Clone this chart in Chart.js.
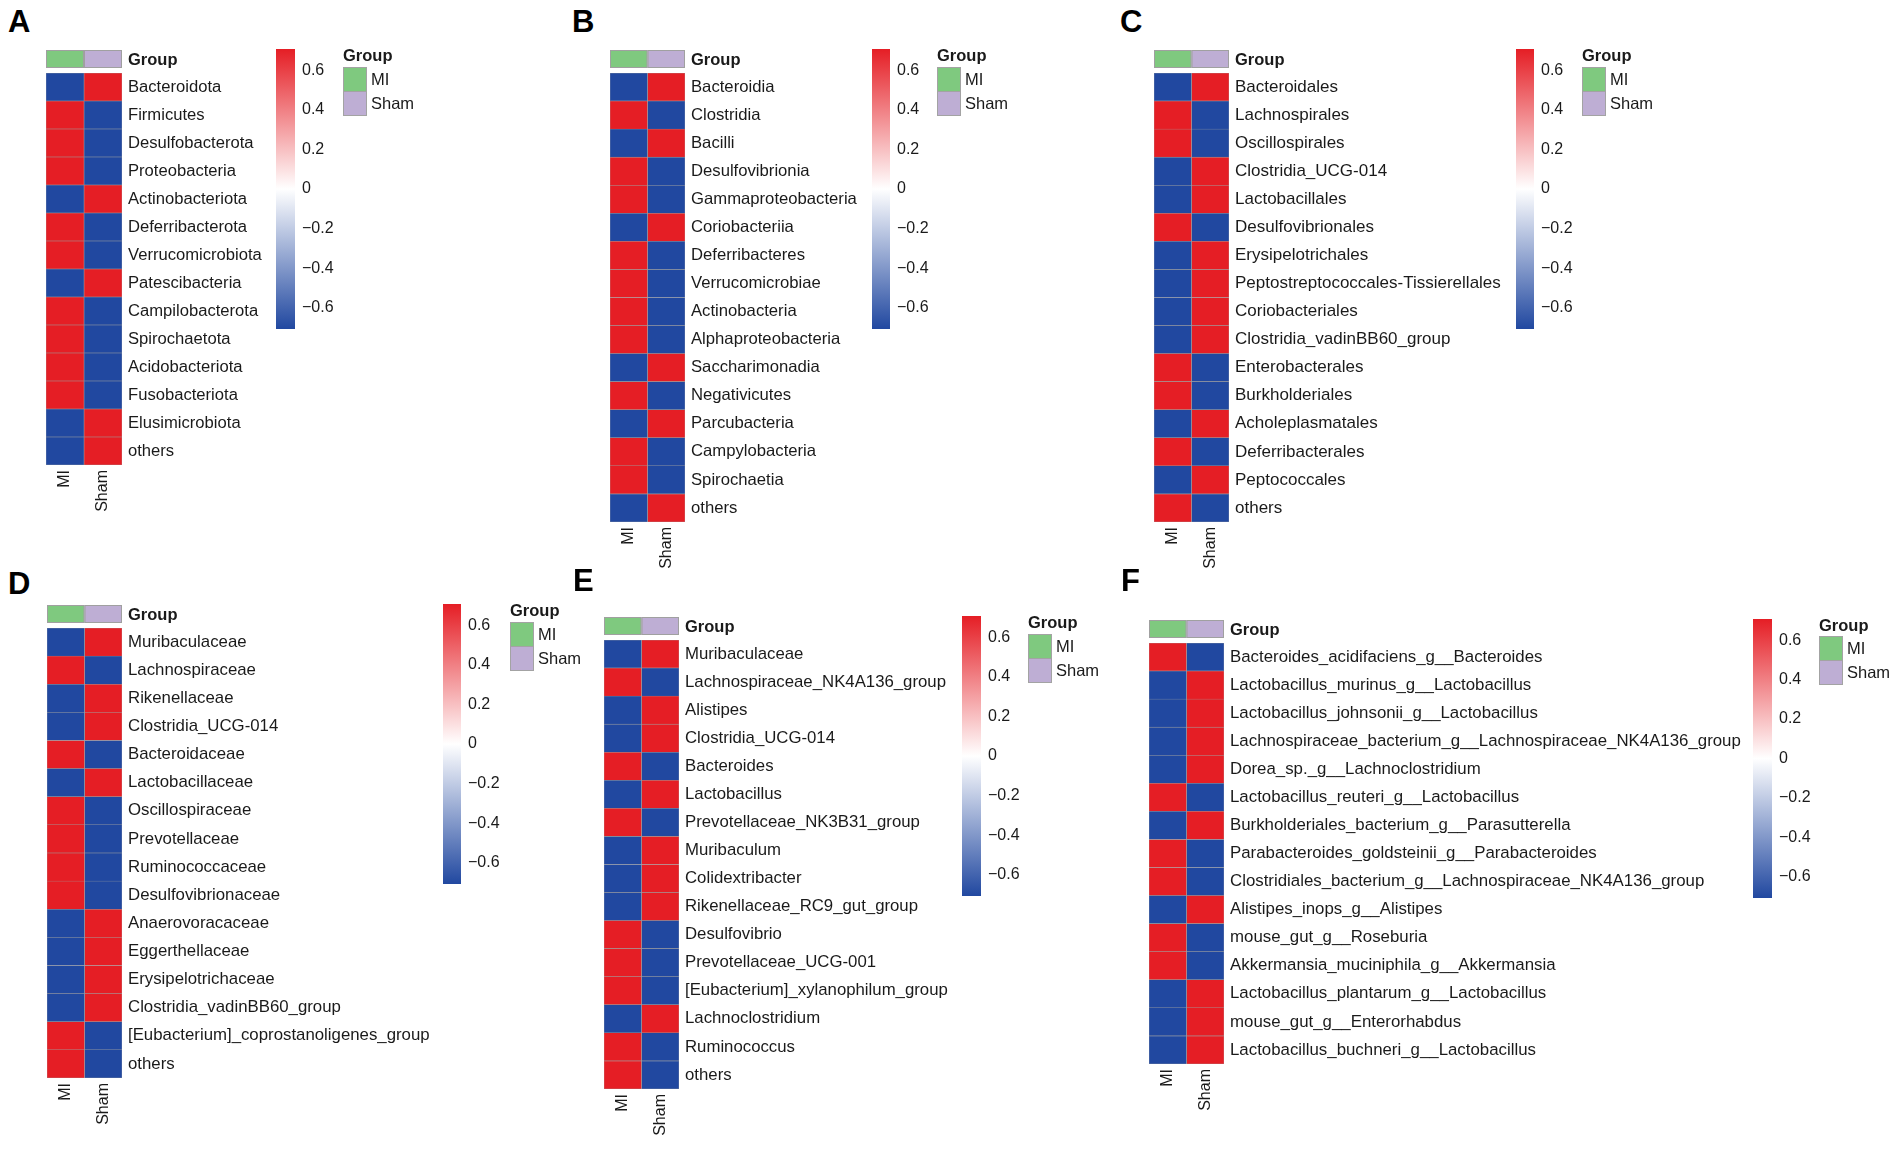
<!DOCTYPE html>
<html><head><meta charset="utf-8">
<script src="https://cdn.jsdelivr.net/npm/chart.js@4.4.1/dist/chart.umd.min.js"></script>
<style>
html,body{margin:0;padding:0;background:#fff;}
body{width:1902px;height:1150px;position:relative;overflow:hidden;font-family:"Liberation Sans",Arial,Helvetica,sans-serif;color:#1a1a1a;}
.abs{position:absolute;}
canvas{position:absolute;}
.letter{font-weight:bold;font-size:31px;line-height:31px;color:#000;}
.legtitle{font-weight:bold;font-size:16.5px;line-height:16.5px;white-space:nowrap;}
.legtext{font-size:16.5px;line-height:16.5px;white-space:nowrap;}
.sq{box-sizing:border-box;border:1px solid #a3a3a3;}
</style></head><body>
<script>
// ---------- data ----------
const columns = ["MI", "Sham"];
const colorbarTicks = [-0.6, -0.4, -0.2, 0, 0.2, 0.4, 0.6];
const zLimit = 0.707;

const phylumTaxa = ["Bacteroidota","Firmicutes","Desulfobacterota","Proteobacteria","Actinobacteriota","Deferribacterota","Verrucomicrobiota","Patescibacteria","Campilobacterota","Spirochaetota","Acidobacteriota","Fusobacteriota","Elusimicrobiota","others"];
const phylumMI   = [-0.707, 0.707, 0.707, 0.707,-0.707, 0.707, 0.707,-0.707, 0.707, 0.707, 0.707, 0.707,-0.707,-0.707];
const phylumSham = [ 0.707,-0.707,-0.707,-0.707, 0.707,-0.707,-0.707, 0.707,-0.707,-0.707,-0.707,-0.707, 0.707, 0.707];

const classTaxa = ["Bacteroidia","Clostridia","Bacilli","Desulfovibrionia","Gammaproteobacteria","Coriobacteriia","Deferribacteres","Verrucomicrobiae","Actinobacteria","Alphaproteobacteria","Saccharimonadia","Negativicutes","Parcubacteria","Campylobacteria","Spirochaetia","others"];
const classMI   = [-0.707, 0.707,-0.707, 0.707, 0.707,-0.707, 0.707, 0.707, 0.707, 0.707,-0.707, 0.707,-0.707, 0.707, 0.707,-0.707];
const classSham = [ 0.707,-0.707, 0.707,-0.707,-0.707, 0.707,-0.707,-0.707,-0.707,-0.707, 0.707,-0.707, 0.707,-0.707,-0.707, 0.707];

const orderTaxa = ["Bacteroidales","Lachnospirales","Oscillospirales","Clostridia_UCG-014","Lactobacillales","Desulfovibrionales","Erysipelotrichales","Peptostreptococcales-Tissierellales","Coriobacteriales","Clostridia_vadinBB60_group","Enterobacterales","Burkholderiales","Acholeplasmatales","Deferribacterales","Peptococcales","others"];
const orderMI   = [-0.707, 0.707, 0.707,-0.707,-0.707, 0.707,-0.707,-0.707,-0.707,-0.707, 0.707, 0.707,-0.707, 0.707,-0.707, 0.707];
const orderSham = [ 0.707,-0.707,-0.707, 0.707, 0.707,-0.707, 0.707, 0.707, 0.707, 0.707,-0.707,-0.707, 0.707,-0.707, 0.707,-0.707];

const familyTaxa = ["Muribaculaceae","Lachnospiraceae","Rikenellaceae","Clostridia_UCG-014","Bacteroidaceae","Lactobacillaceae","Oscillospiraceae","Prevotellaceae","Ruminococcaceae","Desulfovibrionaceae","Anaerovoracaceae","Eggerthellaceae","Erysipelotrichaceae","Clostridia_vadinBB60_group","[Eubacterium]_coprostanoligenes_group","others"];
const familyMI   = [-0.707, 0.707,-0.707,-0.707, 0.707,-0.707, 0.707, 0.707, 0.707, 0.707,-0.707,-0.707,-0.707,-0.707, 0.707, 0.707];
const familySham = [ 0.707,-0.707, 0.707, 0.707,-0.707, 0.707,-0.707,-0.707,-0.707,-0.707, 0.707, 0.707, 0.707, 0.707,-0.707,-0.707];

const genusTaxa = ["Muribaculaceae","Lachnospiraceae_NK4A136_group","Alistipes","Clostridia_UCG-014","Bacteroides","Lactobacillus","Prevotellaceae_NK3B31_group","Muribaculum","Colidextribacter","Rikenellaceae_RC9_gut_group","Desulfovibrio","Prevotellaceae_UCG-001","[Eubacterium]_xylanophilum_group","Lachnoclostridium","Ruminococcus","others"];
const genusMI   = [-0.707, 0.707,-0.707,-0.707, 0.707,-0.707, 0.707,-0.707,-0.707,-0.707, 0.707, 0.707, 0.707,-0.707, 0.707, 0.707];
const genusSham = [ 0.707,-0.707, 0.707, 0.707,-0.707, 0.707,-0.707, 0.707, 0.707, 0.707,-0.707,-0.707,-0.707, 0.707,-0.707,-0.707];

const speciesTaxa = ["Bacteroides_acidifaciens_g__Bacteroides","Lactobacillus_murinus_g__Lactobacillus","Lactobacillus_johnsonii_g__Lactobacillus","Lachnospiraceae_bacterium_g__Lachnospiraceae_NK4A136_group","Dorea_sp._g__Lachnoclostridium","Lactobacillus_reuteri_g__Lactobacillus","Burkholderiales_bacterium_g__Parasutterella","Parabacteroides_goldsteinii_g__Parabacteroides","Clostridiales_bacterium_g__Lachnospiraceae_NK4A136_group","Alistipes_inops_g__Alistipes","mouse_gut_g__Roseburia","Akkermansia_muciniphila_g__Akkermansia","Lactobacillus_plantarum_g__Lactobacillus","mouse_gut_g__Enterorhabdus","Lactobacillus_buchneri_g__Lactobacillus"];
const speciesMI   = [ 0.707,-0.707,-0.707,-0.707,-0.707, 0.707,-0.707, 0.707, 0.707,-0.707, 0.707, 0.707,-0.707,-0.707,-0.707];
const speciesSham = [-0.707, 0.707, 0.707, 0.707, 0.707,-0.707, 0.707,-0.707,-0.707, 0.707,-0.707,-0.707, 0.707, 0.707, 0.707];

// ---------- styling / layout ----------
const FONT = '"Liberation Sans", Arial, Helvetica, sans-serif';
const TEXT = '#1a1a1a';
const CELL_BORDER = '#a0a0a0';
const groupColors = ['#7FC97F', '#BEAED4'];
const LOW = [33, 72, 160], MID = [255, 255, 255], HIGH = [229, 30, 37];

const panels = [
  {letter:'A', lx:8,    ly:11,  taxa:phylumTaxa,  mi:phylumMI,  sham:phylumSham,  hl:46,   hr:122,  ht:73,  rowH:28,   lw:134, cb:[276,49,19,280],  leg:[343,55,67]},
  {letter:'B', lx:572,  ly:11,  taxa:classTaxa,   mi:classMI,   sham:classSham,   hl:610,  hr:685,  ht:73,  rowH:28.05,lw:166, cb:[872,49,18,280],  leg:[937,55,67]},
  {letter:'C', lx:1120, ly:11,  taxa:orderTaxa,   mi:orderMI,   sham:orderSham,   hl:1154, hr:1229, ht:73,  rowH:28.05,lw:267, cb:[1516,49,18,280], leg:[1582,55,67]},
  {letter:'D', lx:8,    ly:573, taxa:familyTaxa,  mi:familyMI,  sham:familySham,  hl:47,   hr:122,  ht:628, rowH:28.07,lw:302, cb:[443,604,18,280], leg:[510,610,622]},
  {letter:'E', lx:573,  ly:570, taxa:genusTaxa,   mi:genusMI,   sham:genusSham,   hl:604,  hr:679,  ht:640, rowH:28.03,lw:263, cb:[962,616,19,280], leg:[1028,622,634]},
  {letter:'F', lx:1121, ly:570, taxa:speciesTaxa, mi:speciesMI, sham:speciesSham, hl:1149, hr:1224, ht:643, rowH:28.05,lw:511, cb:[1753,619,19,279], leg:[1819,625,636]}
];

function mix(a, b, t) { return a.map((v, i) => Math.round(v + (b[i] - v) * t)); }
function zColor(v) {
  let t = (v + zLimit) / (2 * zLimit);
  t = Math.max(0, Math.min(1, t));
  const c = t < 0.5 ? mix(LOW, MID, t / 0.5) : mix(MID, HIGH, (t - 0.5) / 0.5);
  return `rgb(${c[0]},${c[1]},${c[2]})`;
}
function fmtTick(v) {
  const r = Math.round(v * 10) / 10;
  if (Math.abs(r) < 1e-9) return '0';
  return (r < 0 ? '\u2212' : '') + Math.abs(r).toFixed(1);
}

const measureCtx = document.createElement('canvas').getContext('2d');
function fitFont(labels, target) {
  measureCtx.font = '100px ' + FONT;
  const w = Math.max(...labels.map(l => measureCtx.measureText(l).width));
  return Math.min(17, target * 100 / w);
}

const groupBarPlugin = {
  id: 'groupBar',
  afterDraw(chart, args, opts) {
    const {ctx, chartArea, scales} = chart;
    const x = scales.x;
    const top = chartArea.top - opts.offset, h = opts.height;
    ctx.save();
    columns.forEach((c, i) => {
      const x0 = x.getPixelForValue(i), x1 = x.getPixelForValue(i + 1);
      ctx.fillStyle = groupColors[i];
      ctx.fillRect(x0, top, x1 - x0, h);
      ctx.strokeStyle = CELL_BORDER; ctx.lineWidth = 1;
      ctx.strokeRect(x0 + 0.5, top + 0.5, x1 - x0 - 1, h - 1);
    });
    ctx.fillStyle = TEXT;
    ctx.font = 'bold 16.5px ' + FONT;
    ctx.textBaseline = 'middle'; ctx.textAlign = 'left';
    ctx.fillText('Group', chartArea.right + opts.pad, top + h / 2 + 1);
    ctx.restore();
  }
};

function addDiv(cls, x, y, text, extra) {
  const d = document.createElement('div');
  d.className = 'abs ' + cls;
  d.style.left = x + 'px'; d.style.top = y + 'px';
  if (text != null) d.textContent = text;
  if (extra) Object.assign(d.style, extra);
  document.body.appendChild(d);
  return d;
}

function addCanvas(x, y, w, h) {
  const c = document.createElement('canvas');
  c.width = w; c.height = h;
  c.style.left = x + 'px'; c.style.top = y + 'px';
  c.style.width = w + 'px'; c.style.height = h + 'px';
  document.body.appendChild(c);
  return c;
}

panels.forEach(p => {
  // panel letter
  addDiv('letter', p.lx, p.ly - 5, p.letter);

  // ----- heatmap -----
  const fs = fitFont(p.taxa, p.lw);
  const padL = 10, padT = 30, axisH = 62;
  const labelPad = 6;
  const labelAreaW = Math.ceil(p.lw + 40);
  const heatW = p.hr - p.hl, heatH = p.rowH * p.taxa.length;
  const cw = padL + heatW + labelAreaW;
  const ch = Math.ceil(padT + heatH + axisH);
  const cv = addCanvas(p.hl - padL, p.ht - padT, cw, ch);
  const colData = [p.mi, p.sham];
  new Chart(cv, {
    type: 'bar',
    data: {
      labels: p.taxa,
      datasets: columns.map((c, i) => ({
        label: c,
        data: colData[i].map(() => 1),
        zValues: colData[i],
        backgroundColor: ctx => zColor(ctx.dataset.zValues[ctx.dataIndex]),
        borderColor: CELL_BORDER,
        borderWidth: 0.55,
        borderSkipped: false,
        barPercentage: 1,
        categoryPercentage: 1
      }))
    },
    options: {
      indexAxis: 'y',
      responsive: false,
      animation: false,
      devicePixelRatio: 1,
      layout: {padding: {left: padL, top: padT, right: 0, bottom: 0}},
      plugins: {
        legend: {display: false},
        tooltip: {enabled: false},
        groupBar: {offset: 23, height: 18, pad: labelPad}
      },
      scales: {
        x: {
          type: 'linear', min: 0, max: columns.length, stacked: true, position: 'bottom',
          grid: {display: false, drawTicks: false}, border: {display: false},
          afterBuildTicks: s => { s.ticks = columns.map((c, i) => ({value: i + 0.5})); },
          afterFit: s => { s.height = axisH; },
          ticks: {
            autoSkip: false, minRotation: 90, maxRotation: 90, padding: 5,
            color: TEXT, font: {family: FONT, size: 16},
            callback: (v, i) => columns[i]
          }
        },
        y: {
          type: 'category', position: 'right', stacked: true,
          grid: {display: false, drawTicks: false}, border: {display: false},
          afterFit: s => { s.width = labelAreaW; },
          ticks: {autoSkip: false, padding: labelPad, color: TEXT, font: {family: FONT, size: fs}}
        }
      }
    },
    plugins: [groupBarPlugin]
  });

  // ----- colour bar -----
  const [cbx, cby, cbw, cbh] = p.cb;
  const cbPad = 20, cbAxisW = 50;
  const ccv = addCanvas(cbx, cby - cbPad, cbw + cbAxisW, cbh + 2 * cbPad);
  new Chart(ccv, {
    type: 'bar',
    data: {
      labels: ['z-score'],
      datasets: [{
        data: [[-zLimit, zLimit]],
        borderWidth: 0,
        barPercentage: 1, categoryPercentage: 1,
        backgroundColor: ctx => {
          const a = ctx.chart.chartArea;
          if (!a) return null;
          const g = ctx.chart.ctx.createLinearGradient(0, a.bottom, 0, a.top);
          g.addColorStop(0, zColor(-zLimit));
          g.addColorStop(0.5, zColor(0));
          g.addColorStop(1, zColor(zLimit));
          return g;
        }
      }]
    },
    options: {
      responsive: false, animation: false, devicePixelRatio: 1,
      layout: {padding: {left: 0, right: 0, top: cbPad, bottom: cbPad}},
      plugins: {legend: {display: false}, tooltip: {enabled: false}},
      scales: {
        x: {display: false},
        y: {
          type: 'linear', position: 'right', min: -zLimit, max: zLimit,
          grid: {display: false, drawTicks: false}, border: {display: false},
          afterBuildTicks: s => { s.ticks = colorbarTicks.map(v => ({value: v})); },
          afterFit: s => { s.width = cbAxisW; },
          ticks: {padding: 7, color: TEXT, font: {family: FONT, size: 16}, callback: v => fmtTick(v)}
        }
      }
    }
  });

  // ----- group legend -----
  const [lgx, lgTitleY, lgSqTop] = p.leg;
  addDiv('legtitle', lgx, lgTitleY - 8.5, 'Group');
  columns.forEach((c, i) => {
    addDiv('sq', lgx, lgSqTop + i * 24, null, {width: '24px', height: '24.5px', background: groupColors[i]});
    addDiv('legtext', lgx + 28, lgSqTop + i * 24 + 3.5, c);
  });
});
</script>
</body></html>
